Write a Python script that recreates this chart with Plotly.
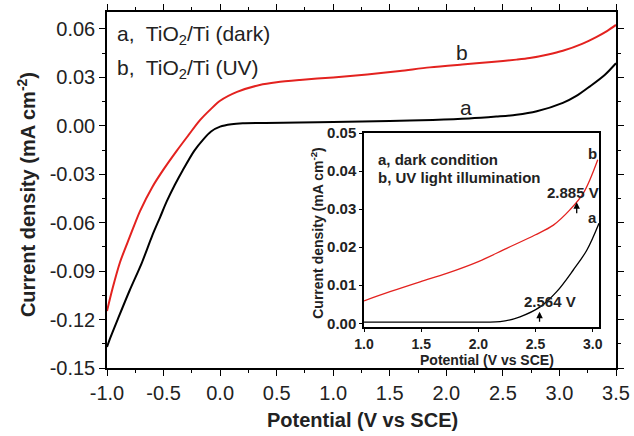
import plotly.graph_objects as go

# Main panel data (V vs SCE, mA cm^-2)
xa_main = [-1.0, -0.98, -0.9, -0.8, -0.693, -0.6, -0.53, -0.473, -0.4, -0.33, -0.229, -0.15, -0.08, 0.0, 0.1, 0.2,
           0.4, 0.7, 1.0, 1.5, 1.88, 2.2, 2.442, 2.62, 2.8, 3.03, 3.15, 3.267, 3.4, 3.5]
ya_main = [-0.137, -0.133, -0.119, -0.102, -0.085, -0.068, -0.0565, -0.047, -0.0365, -0.0275, -0.0155, -0.0085,
           -0.0035, -0.0005, 0.001, 0.0016, 0.0018, 0.002, 0.0024, 0.003, 0.0036, 0.0045, 0.0057, 0.0068, 0.009,
           0.0142, 0.0185, 0.0243, 0.0315, 0.0388]
xb_main = [-1.0, -0.95, -0.885, -0.8, -0.708, -0.6, -0.5, -0.384, -0.28, -0.178, -0.08, 0.0, 0.15, 0.35, 0.5,
           0.705, 1.0, 1.3, 1.59, 1.853, 2.14, 2.4, 2.62, 2.737, 2.9, 3.03, 3.2, 3.325, 3.42, 3.5]
yb_main = [-0.1147, -0.1005, -0.0845, -0.069, -0.0528, -0.038, -0.027, -0.0155, -0.0058, 0.0035, 0.0105, 0.0155,
           0.021, 0.0253, 0.027, 0.0284, 0.030, 0.0318, 0.034, 0.0362, 0.038, 0.0395, 0.041, 0.042, 0.0442, 0.0465,
           0.0508, 0.0550, 0.0587, 0.0625]

# Inset data
xa_ins = [1.0, 1.5, 2.0, 2.19, 2.364, 2.54, 2.685, 2.83, 2.948, 3.055]
ya_ins = [0.0003, 0.0003, 0.0003, 0.0004, 0.0017, 0.0043, 0.0083, 0.014, 0.0192, 0.0263]
xb_ins = [1.0, 1.227, 1.49, 1.723, 2.0, 2.248, 2.495, 2.656, 2.80, 2.918, 3.044]
yb_ins = [0.0059, 0.0083, 0.0109, 0.0131, 0.0162, 0.0197, 0.0232, 0.0258, 0.0298, 0.0342, 0.0430]

main_xticks = [-1.0, -0.5, 0.0, 0.5, 1.0, 1.5, 2.0, 2.5, 3.0, 3.5]
main_yticks = [-0.15, -0.12, -0.09, -0.06, -0.03, 0.0, 0.03, 0.06]
ins_xticks = [1.0, 1.5, 2.0, 2.5, 3.0]
ins_yticks = [0.0, 0.01, 0.02, 0.03, 0.04, 0.05]

RED = "#e3221f"
FONT = "Liberation Sans, Arial, sans-serif"

fig = go.Figure()
fig.add_trace(go.Scatter(x=xa_main, y=ya_main, mode="lines",
                         line=dict(color="black", width=2, shape="spline", smoothing=0.8),
                         xaxis="x", yaxis="y", showlegend=False))
fig.add_trace(go.Scatter(x=xb_main, y=yb_main, mode="lines",
                         line=dict(color=RED, width=2, shape="spline", smoothing=0.8),
                         xaxis="x", yaxis="y", showlegend=False))
fig.add_trace(go.Scatter(x=xa_ins, y=ya_ins, mode="lines", line=dict(color="black", width=1.3, shape="spline"),
                         xaxis="x2", yaxis="y2", showlegend=False))
fig.add_trace(go.Scatter(x=xb_ins, y=yb_ins, mode="lines", line=dict(color=RED, width=1.3, shape="spline"),
                         xaxis="x2", yaxis="y2", showlegend=False))

axis_common = dict(showline=True, linecolor="black", linewidth=1.5, ticks="outside", tickcolor="black",
                   showgrid=False, zeroline=False, automargin=False)

fig.update_layout(
    width=634, height=436,
    margin=dict(l=107, r=18, t=12, b=68, autoexpand=False),
    paper_bgcolor="white", plot_bgcolor="white",
    font=dict(family=FONT, color="#222222"),
    xaxis=dict(range=[-1.0, 3.5], tickvals=main_xticks, ticktext=[f"{v:.1f}" for v in main_xticks],
               ticklen=6, tickwidth=1.2, mirror="ticks", tickfont=dict(size=20),
               minor=dict(ticks="outside", ticklen=3, tickcolor="black", dtick=0.25, tick0=-1.0),
               **axis_common),
    yaxis=dict(range=[-0.15, 0.0705], tickvals=main_yticks, ticktext=[f"{v:.2f}" for v in main_yticks],
               ticklen=6, tickwidth=1.2, mirror="ticks", tickfont=dict(size=20),
               minor=dict(ticks="outside", ticklen=3, tickcolor="black", dtick=0.015, tick0=-0.15),
               **axis_common),
    xaxis2=dict(domain=[0.505, 0.9666], anchor="y2", range=[1.0, 3.055], tickvals=ins_xticks,
                ticktext=[f"{v:.1f}" for v in ins_xticks], ticklen=3, tickwidth=1, mirror=True,
                tickfont=dict(size=14, family=FONT, weight="bold"), **axis_common),
    yaxis2=dict(domain=[0.115, 0.660], anchor="x2", range=[-0.001, 0.05], tickvals=ins_yticks,
                ticktext=[f"{v:.2f}" for v in ins_yticks], ticklen=3, tickwidth=1, mirror=True,
                tickfont=dict(size=15, family=FONT, weight="bold"), **axis_common),
)

ann = []
# Axis titles (main)
ann.append(dict(text="<b>Potential (V vs SCE)</b>", xref="paper", yref="paper", x=0.501, y=-0.146,
                showarrow=False, font=dict(size=20), xanchor="center", yanchor="middle"))
ann.append(dict(text="<b>Current density (mA cm<sup>-2</sup>)</b>", xref="paper", yref="paper", x=-0.157, y=0.486,
                showarrow=False, font=dict(size=20), textangle=-90, xanchor="center", yanchor="middle"))
# Legend (main)
ann.append(dict(text="a,  TiO<sub>2</sub>/Ti (dark)", xref="paper", yref="paper", x=0.0157, y=0.935,
                showarrow=False, font=dict(size=21), xanchor="left", yanchor="middle"))
ann.append(dict(text="b,  TiO<sub>2</sub>/Ti (UV)", xref="paper", yref="paper", x=0.0157, y=0.840,
                showarrow=False, font=dict(size=21), xanchor="left", yanchor="middle"))
# Curve labels (main)
ann.append(dict(text="a", x=2.17, y=0.0113, xref="x", yref="y", showarrow=False, font=dict(size=21)))
ann.append(dict(text="b", x=2.14, y=0.0453, xref="x", yref="y", showarrow=False, font=dict(size=21)))
# Inset titles
ann.append(dict(text="<b>Potential (V vs SCE)</b>", xref="paper", yref="paper", x=0.746, y=0.022,
                showarrow=False, font=dict(size=14), xanchor="center", yanchor="middle"))
ann.append(dict(text="<b>Current density (mA cm<sup>-2</sup>)</b>", xref="paper", yref="paper", x=0.412, y=0.379,
                showarrow=False, font=dict(size=14), textangle=-90, xanchor="center", yanchor="middle"))
# Inset legend
ann.append(dict(text="<b>a, dark condition</b>", x=1.105, y=0.0431, xref="x2", yref="y2", showarrow=False,
                font=dict(size=15), xanchor="left", yanchor="middle"))
ann.append(dict(text="<b>b, UV light illumination</b>", x=1.105, y=0.0383, xref="x2", yref="y2", showarrow=False,
                font=dict(size=15), xanchor="left", yanchor="middle"))
# Inset curve labels
ann.append(dict(text="<b>b</b>", x=3.0, y=0.0447, xref="x2", yref="y2", showarrow=False, font=dict(size=15)))
ann.append(dict(text="<b>a</b>", x=3.0, y=0.0277, xref="x2", yref="y2", showarrow=False, font=dict(size=15)))
# Onset annotations
ann.append(dict(text="<b>2.885 V</b>", x=2.825, y=0.0345, xref="x2", yref="y2", showarrow=False, font=dict(size=15)))
ann.append(dict(text="", x=2.86, y=0.0318, ax=2.86, ay=0.0285, xref="x2", yref="y2", axref="x2", ayref="y2",
                showarrow=True, arrowhead=2, arrowsize=1, arrowwidth=1.3, arrowcolor="black"))
ann.append(dict(text="<b>2.564 V</b>", x=2.627, y=0.0056, xref="x2", yref="y2", showarrow=False, font=dict(size=15)))
ann.append(dict(text="", x=2.535, y=0.0030, ax=2.535, ay=0.0, xref="x2", yref="y2", axref="x2", ayref="y2",
                showarrow=True, arrowhead=2, arrowsize=1, arrowwidth=1.3, arrowcolor="black"))

fig.update_layout(annotations=ann)
fig.write_html("out.html", config={"displayModeBar": False},
               post_script="document.body.style.margin='0px';document.body.style.overflow='hidden';")
